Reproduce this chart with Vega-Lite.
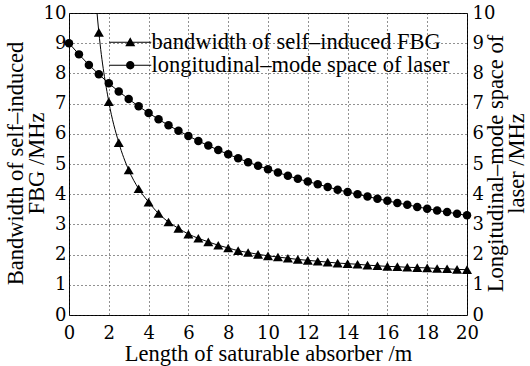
{
  "$schema": "https://vega.github.io/schema/vega-lite/v6.json",
  "width": 398,
  "height": 302,
  "autosize": {"type": "none"},
  "padding": {"left": 69, "top": 13, "right": 63, "bottom": 51},
  "background": "white",
  "config": {
    "font": "'Liberation Serif'",
    "view": {"stroke": "black", "strokeWidth": 1},
    "axis": {
      "labelFont": "'DejaVu Serif'", "labelFontSize": 18, "labelColor": "black",
      "titleFont": "'Liberation Serif'", "titleFontSize": 22.5, "titleFontWeight": "normal", "titleColor": "black",
      "domain": false, "ticks": false,
      "gridColor": "#222", "gridDash": [1, 3], "gridOpacity": 1, "gridWidth": 1,
      "titleLineHeight": 21, "labelFlush": false, "labelOverlap": false
    }
  },
  "datasets": {
    "d": [
      {"series": "bandwidth of self–induced FBG", "L": 1.3, "value": 10.83, "curveOnly": true},
      {"series": "bandwidth of self–induced FBG", "L": 1.5, "value": 9.36},
      {"series": "bandwidth of self–induced FBG", "L": 2, "value": 7.06},
      {"series": "bandwidth of self–induced FBG", "L": 2.5, "value": 5.71},
      {"series": "bandwidth of self–induced FBG", "L": 3, "value": 4.8},
      {"series": "bandwidth of self–induced FBG", "L": 3.5, "value": 4.18},
      {"series": "bandwidth of self–induced FBG", "L": 4, "value": 3.74},
      {"series": "bandwidth of self–induced FBG", "L": 4.5, "value": 3.36},
      {"series": "bandwidth of self–induced FBG", "L": 5, "value": 3.08},
      {"series": "bandwidth of self–induced FBG", "L": 5.5, "value": 2.87},
      {"series": "bandwidth of self–induced FBG", "L": 6, "value": 2.68},
      {"series": "bandwidth of self–induced FBG", "L": 6.5, "value": 2.54},
      {"series": "bandwidth of self–induced FBG", "L": 7, "value": 2.42},
      {"series": "bandwidth of self–induced FBG", "L": 7.5, "value": 2.31},
      {"series": "bandwidth of self–induced FBG", "L": 8, "value": 2.22},
      {"series": "bandwidth of self–induced FBG", "L": 8.5, "value": 2.13},
      {"series": "bandwidth of self–induced FBG", "L": 9, "value": 2.07},
      {"series": "bandwidth of self–induced FBG", "L": 9.5, "value": 2.01},
      {"series": "bandwidth of self–induced FBG", "L": 10, "value": 1.96},
      {"series": "bandwidth of self–induced FBG", "L": 10.5, "value": 1.92},
      {"series": "bandwidth of self–induced FBG", "L": 11, "value": 1.88},
      {"series": "bandwidth of self–induced FBG", "L": 11.5, "value": 1.84},
      {"series": "bandwidth of self–induced FBG", "L": 12, "value": 1.81},
      {"series": "bandwidth of self–induced FBG", "L": 12.5, "value": 1.78},
      {"series": "bandwidth of self–induced FBG", "L": 13, "value": 1.75},
      {"series": "bandwidth of self–induced FBG", "L": 13.5, "value": 1.72},
      {"series": "bandwidth of self–induced FBG", "L": 14, "value": 1.7},
      {"series": "bandwidth of self–induced FBG", "L": 14.5, "value": 1.68},
      {"series": "bandwidth of self–induced FBG", "L": 15, "value": 1.65},
      {"series": "bandwidth of self–induced FBG", "L": 15.5, "value": 1.63},
      {"series": "bandwidth of self–induced FBG", "L": 16, "value": 1.61},
      {"series": "bandwidth of self–induced FBG", "L": 16.5, "value": 1.6},
      {"series": "bandwidth of self–induced FBG", "L": 17, "value": 1.58},
      {"series": "bandwidth of self–induced FBG", "L": 17.5, "value": 1.57},
      {"series": "bandwidth of self–induced FBG", "L": 18, "value": 1.56},
      {"series": "bandwidth of self–induced FBG", "L": 18.5, "value": 1.54},
      {"series": "bandwidth of self–induced FBG", "L": 19, "value": 1.53},
      {"series": "bandwidth of self–induced FBG", "L": 19.5, "value": 1.51},
      {"series": "bandwidth of self–induced FBG", "L": 20, "value": 1.5},
      {"series": "longitudinal–mode space of laser", "L": 0, "value": 9.0},
      {"series": "longitudinal–mode space of laser", "L": 0.5, "value": 8.63},
      {"series": "longitudinal–mode space of laser", "L": 1, "value": 8.28},
      {"series": "longitudinal–mode space of laser", "L": 1.5, "value": 7.97},
      {"series": "longitudinal–mode space of laser", "L": 2, "value": 7.67},
      {"series": "longitudinal–mode space of laser", "L": 2.5, "value": 7.4},
      {"series": "longitudinal–mode space of laser", "L": 3, "value": 7.15},
      {"series": "longitudinal–mode space of laser", "L": 3.5, "value": 6.91},
      {"series": "longitudinal–mode space of laser", "L": 4, "value": 6.69},
      {"series": "longitudinal–mode space of laser", "L": 4.5, "value": 6.48},
      {"series": "longitudinal–mode space of laser", "L": 5, "value": 6.28},
      {"series": "longitudinal–mode space of laser", "L": 5.5, "value": 6.1},
      {"series": "longitudinal–mode space of laser", "L": 6, "value": 5.93},
      {"series": "longitudinal–mode space of laser", "L": 6.5, "value": 5.76},
      {"series": "longitudinal–mode space of laser", "L": 7, "value": 5.61},
      {"series": "longitudinal–mode space of laser", "L": 7.5, "value": 5.46},
      {"series": "longitudinal–mode space of laser", "L": 8, "value": 5.32},
      {"series": "longitudinal–mode space of laser", "L": 8.5, "value": 5.19},
      {"series": "longitudinal–mode space of laser", "L": 9, "value": 5.06},
      {"series": "longitudinal–mode space of laser", "L": 9.5, "value": 4.94},
      {"series": "longitudinal–mode space of laser", "L": 10, "value": 4.83},
      {"series": "longitudinal–mode space of laser", "L": 10.5, "value": 4.72},
      {"series": "longitudinal–mode space of laser", "L": 11, "value": 4.61},
      {"series": "longitudinal–mode space of laser", "L": 11.5, "value": 4.51},
      {"series": "longitudinal–mode space of laser", "L": 12, "value": 4.42},
      {"series": "longitudinal–mode space of laser", "L": 12.5, "value": 4.33},
      {"series": "longitudinal–mode space of laser", "L": 13, "value": 4.24},
      {"series": "longitudinal–mode space of laser", "L": 13.5, "value": 4.15},
      {"series": "longitudinal–mode space of laser", "L": 14, "value": 4.07},
      {"series": "longitudinal–mode space of laser", "L": 14.5, "value": 4.0},
      {"series": "longitudinal–mode space of laser", "L": 15, "value": 3.92},
      {"series": "longitudinal–mode space of laser", "L": 15.5, "value": 3.85},
      {"series": "longitudinal–mode space of laser", "L": 16, "value": 3.78},
      {"series": "longitudinal–mode space of laser", "L": 16.5, "value": 3.71},
      {"series": "longitudinal–mode space of laser", "L": 17, "value": 3.65},
      {"series": "longitudinal–mode space of laser", "L": 17.5, "value": 3.58},
      {"series": "longitudinal–mode space of laser", "L": 18, "value": 3.52},
      {"series": "longitudinal–mode space of laser", "L": 18.5, "value": 3.46},
      {"series": "longitudinal–mode space of laser", "L": 19, "value": 3.41},
      {"series": "longitudinal–mode space of laser", "L": 19.5, "value": 3.35},
      {"series": "longitudinal–mode space of laser", "L": 20, "value": 3.3}
    ]
  },
  "data": {"name": "d"},
  "encoding": {
    "x": {
      "field": "L", "type": "quantitative",
      "scale": {"domain": [0, 20], "nice": false, "zero": false},
      "axis": {"values": [0, 2, 4, 6, 8, 10, 12, 14, 16, 18, 20], "title": "Length of saturable absorber /m", "grid": true, "labelPadding": 9, "titlePadding": 0}
    }
  },
  "layer": [
    {
      "transform": [{"filter": "datum.series == 'bandwidth of self–induced FBG'"}],
      "encoding": {
        "y": {
          "field": "value", "type": "quantitative",
          "scale": {"domain": [0, 10], "nice": false},
          "axis": {"orient": "left", "title": ["Bandwidth of self–induced", "FBG /MHz"], "values": [0, 1, 2, 3, 4, 5, 6, 7, 8, 9, 10], "grid": true, "labelPadding": 3, "titleAngle": 270, "titleBaseline": "middle", "titleAlign": "center", "titleX": -54, "titleY": 150}
        }
      },
      "layer": [
        {"mark": {"type": "line", "color": "black", "strokeWidth": 1, "interpolate": "monotone", "clip": true}},
        {
          "transform": [{"filter": "!datum.curveOnly"}],
          "mark": {"type": "point", "shape": "triangle-up", "filled": true, "color": "black", "size": 100, "opacity": 1}
        }
      ]
    },
    {
      "transform": [{"filter": "datum.series == 'longitudinal–mode space of laser'"}],
      "encoding": {
        "y": {
          "field": "value", "type": "quantitative",
          "scale": {"domain": [0, 10], "nice": false},
          "axis": {"orient": "right", "title": ["Longitudinal–mode space of", "laser /MHz"], "values": [0, 1, 2, 3, 4, 5, 6, 7, 8, 9, 10], "grid": false, "labelPadding": 5, "titleAngle": 270, "titleBaseline": "middle", "titleAlign": "center", "titleX": 28, "titleY": 150}
        }
      },
      "layer": [
        {"mark": {"type": "line", "color": "black", "strokeWidth": 1, "clip": true}},
        {
          "mark": {"type": "point", "shape": "circle", "filled": true, "color": "black", "size": 72, "opacity": 1}
        }
      ]
    },
    {
      "transform": [{"filter": "false"}],
      "mark": {"type": "point", "filled": true, "color": "black", "opacity": 1},
      "encoding": {
        "y": {"field": "value", "type": "quantitative", "scale": {"domain": [0, 10], "nice": false}, "axis": null},
        "shape": {
          "field": "series", "type": "nominal",
          "scale": {"domain": ["bandwidth of self–induced FBG", "longitudinal–mode space of laser"], "range": ["M-2.1,-0.05H2.1V0.05H-2.1ZM0,-0.5L0.5,0.4L-0.5,0.4Z", "M-2.1,-0.05H2.1V0.05H-2.1ZM0.42,0A0.42,0.42,0,1,1,-0.42,0A0.42,0.42,0,1,1,0.42,0Z"]},
          "legend": {
            "title": null, "orient": "none", "legendX": 50, "legendY": 18,
            "symbolSize": 400, "labelFontSize": 22.5, "labelFont": "Times", "labelColor": "black",
            "labelLimit": 0, "labelOffset": 10, "rowPadding": 0, "padding": 0,
            "symbolFillColor": "black", "symbolOpacity": 1
          }
        }
      }
    }
  ],
  "resolve": {"scale": {"y": "independent"}}
}
